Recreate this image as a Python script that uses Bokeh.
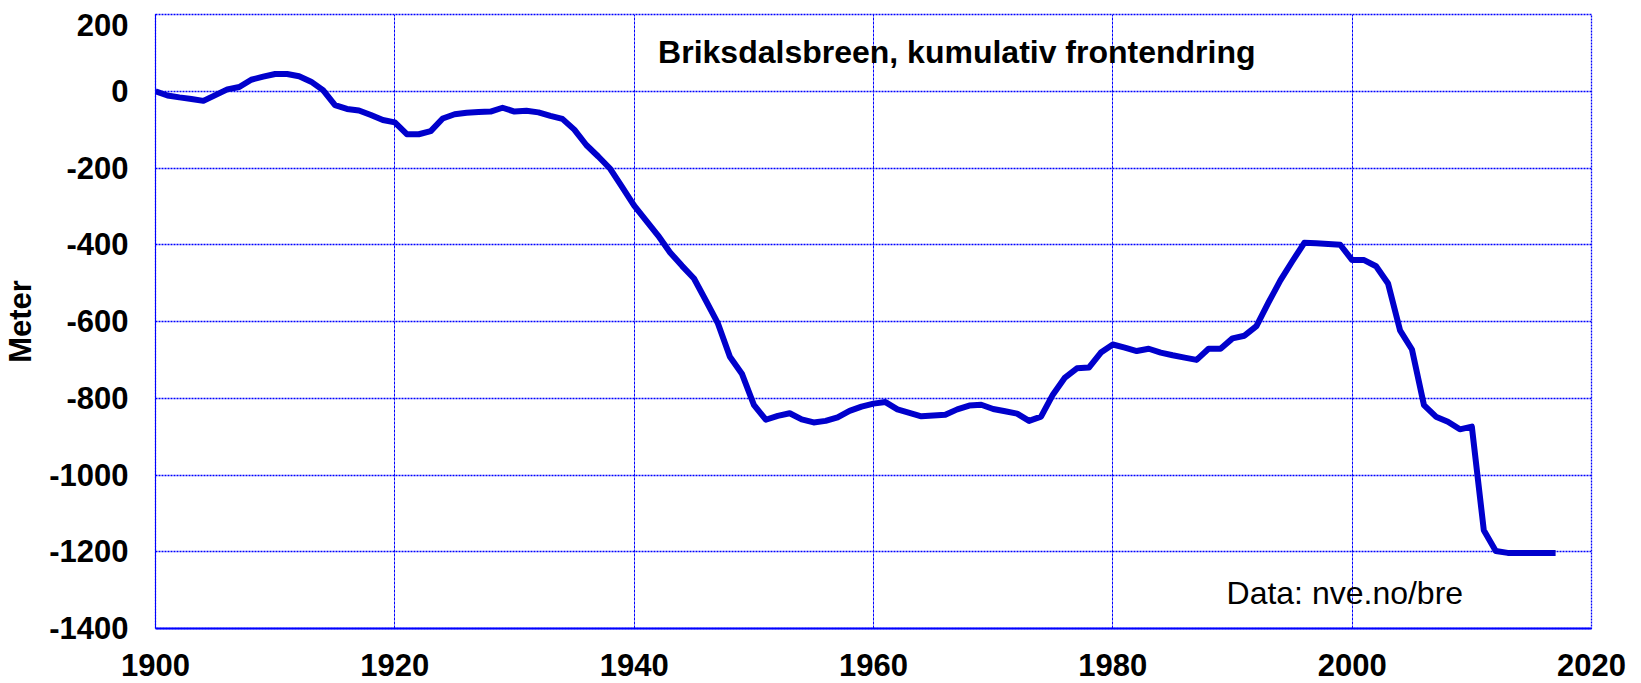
from bokeh.plotting import figure
from bokeh.models import Range1d, Label, FixedTicker, ColumnDataSource
from bokeh.embed import file_html
from bokeh.resources import INLINE

years = list(range(1900, 2018))
front_change = [
    0, -11, -16, -20, -25, -10, 5, 11, 30, 38,            # 1900-1909
    45, 45, 39, 25, 3, -36, -46, -50, -62, -75,           # 1910-1919
    -81, -112, -112, -104, -71, -60, -56, -54, -53, -43,  # 1920-1929
    -53, -51, -55, -64, -72, -100, -140, -170, -202, -250,  # 1930-1939
    -298, -337, -376, -420, -455, -488, -546, -605, -692, -736,  # 1940-1949
    -817, -856, -846, -839, -855, -863, -859, -850, -833, -822,  # 1950-1959
    -814, -810, -829, -838, -847, -845, -843, -829, -819, -817,  # 1960-1969
    -828, -834, -840, -859, -848, -790, -746, -722, -720, -681,  # 1970-1979
    -660, -668, -677, -671, -681, -688, -694, -700, -671, -671,  # 1980-1989
    -644, -637, -612, -551, -493, -443, -395, -396, -398, -400,  # 1990-1999
    -440, -440, -456, -501, -623, -673, -818, -848, -861, -881,  # 2000-2009
    -874, -1144, -1198, -1203, -1203, -1203, -1203, -1203,       # 2010-2017
]
x_ticks = [1900, 1920, 1940, 1960, 1980, 2000, 2020]
y_ticks = [-1400, -1200, -1000, -800, -600, -400, -200, 0, 200]
title_text = "Briksdalsbreen, kumulativ frontendring"
source_text = "Data: nve.no/bre"
y_label = "Meter"

FONT = "Liberation Sans"
BLUE = "#0000FF"

src = ColumnDataSource(dict(year=years, value=front_change))

p = figure(width=1641, height=683,
           x_range=Range1d(1900, 2020), y_range=Range1d(-1400, 200),
           output_backend="svg", toolbar_location=None,
           min_border_left=155, min_border_right=50,
           min_border_top=14, min_border_bottom=55,
           background_fill_color="white", border_fill_color="white")
p.outline_line_color = BLUE
p.outline_line_dash = "2 1"
p.outline_line_width = 1.3

p.line("year", "value", source=src, line_color="#0000CC", line_width=6,
       line_join="round")

p.xaxis.ticker = FixedTicker(ticks=x_ticks)
p.yaxis.ticker = FixedTicker(ticks=y_ticks)
p.xaxis.major_label_overrides = {t: str(t) for t in x_ticks}
y_overrides = {t: str(t) for t in y_ticks}
# the top label sits a little below its gridline, as in the original
y_overrides[y_ticks[-1]] = "\n" + str(y_ticks[-1])
p.yaxis.major_label_overrides = y_overrides
p.yaxis.major_label_text_line_height = 0.2

for ax in (p.xaxis[0], p.yaxis[0]):
    ax.major_tick_line_color = None
    ax.minor_tick_line_color = None
    ax.major_tick_out = 0
    ax.major_tick_in = 0
    ax.major_label_text_font = FONT
    ax.major_label_text_font_style = "bold"
    ax.major_label_text_font_size = "31px"
    ax.major_label_text_color = "black"
    ax.axis_line_color = BLUE

p.xaxis.axis_line_width = 2
p.yaxis.axis_line_width = 1
p.xaxis.major_label_standoff = 25
p.yaxis.major_label_standoff = 27

p.yaxis.axis_label = y_label
p.yaxis.axis_label_text_font = FONT
p.yaxis.axis_label_text_font_style = "bold"
p.yaxis.axis_label_text_font_size = "31px"
p.yaxis.axis_label_text_color = "black"
p.yaxis.axis_label_standoff = 8

p.xgrid.grid_line_color = BLUE
p.xgrid.grid_line_dash = "3 1"
p.xgrid.grid_line_width = 1
p.ygrid.grid_line_color = BLUE
p.ygrid.grid_line_dash = "2 1"
p.ygrid.grid_line_width = 1.3

p.add_layout(Label(x=1942, y=101, text=title_text,
                   text_align="left", text_baseline="alphabetic",
                   text_font=FONT, text_font_style="bold",
                   text_font_size="32px", text_color="black"))

p.add_layout(Label(x=1989.5, y=-1308, text=source_text,
                   text_align="left", text_baseline="alphabetic",
                   text_font=FONT, text_font_size="32px", text_color="black"))

open("out.html", "w").write(file_html(p, INLINE))
